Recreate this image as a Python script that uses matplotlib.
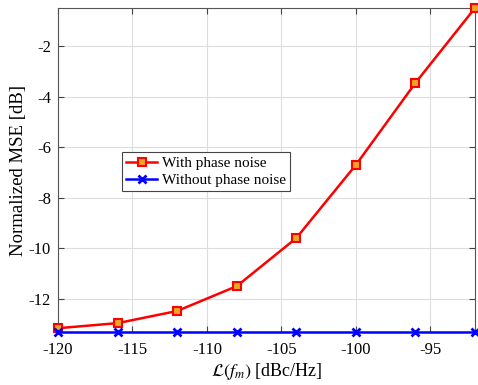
import numpy as np
import matplotlib.pyplot as plt

plt.rcParams['font.family'] = 'Liberation Serif'
plt.rcParams['mathtext.fontset'] = 'stix'

pn_dbc = [-120, -116, -112, -108, -104, -100, -96, -92]
mse_with_pn = [-13.15, -12.95, -12.47, -11.49, -9.59, -6.70, -3.46, -0.5]
mse_without_pn = [-13.3] * 8

fig = plt.figure(figsize=(4.78, 3.85), dpi=100)
ax = fig.add_axes([58/478, 1-332/385, 417/478, 324/385])

ax.plot(pn_dbc, mse_with_pn, color='red', lw=1.8, marker='s', ms=6,
        mfc='#EDA524', mec='red', mew=1.5, label='With phase noise', clip_on=False, zorder=3)
ax.plot(pn_dbc, mse_without_pn, color='blue', lw=1.8, marker='x', ms=6,
        mew=2, label='Without phase noise', clip_on=False, zorder=3)

ax.set_xlim(-120, -92)
ax.set_ylim(-13.3, -0.5)
ax.set_xticks([-120, -115, -110, -105, -100, -95])
ax.set_xticklabels(['-120', '-115', '-110', '-105', '-100', '-95'])
ax.set_yticks([-12, -10, -8, -6, -4, -2])
ax.set_yticklabels(['-12', '-10', '-8', '-6', '-4', '-2'])
ax.tick_params(direction='in', top=True, right=True, labelsize=12, length=4, color='#444444')
ax.tick_params(axis='x', pad=7)
ax.tick_params(axis='y', pad=5)
ax.grid(True, color='#dddddd', lw=0.8)
for s in ax.spines.values():
    s.set_color('#555555')

ax.set_xlabel(r'$\mathcal{L}(f_m)$ [dBc/Hz]', fontsize=13, labelpad=2)
ax.set_ylabel('Normalized MSE [dB]', fontsize=13.5, labelpad=1)

leg = ax.legend(loc='upper left', bbox_to_anchor=(0.153, 0.556), fontsize=11,
                fancybox=False, edgecolor='#444444', framealpha=1, borderaxespad=0,
                handlelength=2.0, borderpad=0.3, labelspacing=0.2, handletextpad=0.3)
leg.get_frame().set_linewidth(0.8)

fig.savefig('out.png', dpi=100)
